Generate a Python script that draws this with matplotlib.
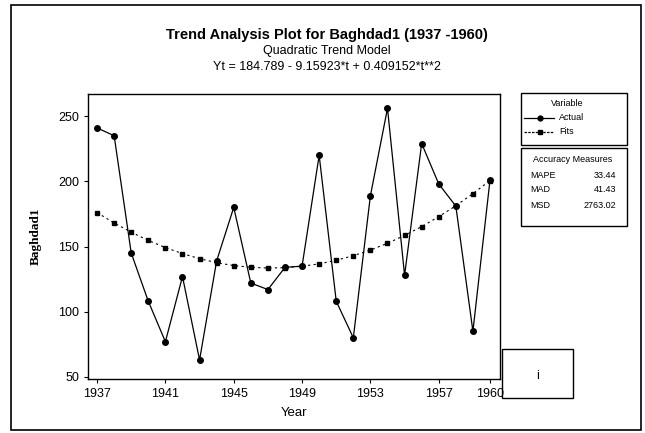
import numpy as np
import matplotlib.pyplot as plt
from matplotlib.lines import Line2D
from matplotlib.patches import Rectangle

# Data
years = list(range(1937, 1961))
actual = [241, 235, 145, 108, 77, 127, 63, 139, 180, 122, 117, 134,
          135, 220, 108, 80, 189, 256, 128, 229, 198, 181, 85, 201]
fits = [176.0, 168.1, 161.0, 154.7, 149.2, 144.6, 140.7, 137.6, 135.4, 134.1,
        133.5, 133.8, 134.9, 136.7, 139.5, 143.0, 147.3, 152.5, 158.5, 165.3,
        172.9, 181.3, 190.6, 200.6]
xticks = [1937, 1941, 1945, 1949, 1953, 1957, 1960]
yticks = [50, 100, 150, 200, 250]
measures = [("MAPE", "33.44"), ("MAD", "41.43"), ("MSD", "2763.02")]

W, H = 645, 433
plt.rcParams['font.family'] = ['Liberation Sans', 'DejaVu Sans']
fig = plt.figure(figsize=(W / 100, H / 100), dpi=100)


def px(x, y):
    # pixel position (top-left origin) -> figure fraction
    return x / W, 1 - y / H


def fig_box(x0, y0, x1, y1, lw=1.0):
    fig.patches.append(Rectangle(px(x0, y1), (x1 - x0) / W, (y1 - y0) / H,
                                 transform=fig.transFigure, fill=False,
                                 edgecolor='black', linewidth=lw))


# outer frame
fig_box(11, 5, 641, 430, lw=1.2)

ax = fig.add_axes([88 / W, 1 - 379 / H, (500 - 88) / W, (379 - 94) / H])
ax.plot(years, actual, color='black', linewidth=0.9, marker='o', markersize=4)
ax.plot(years, fits, color='black', linewidth=0.8, linestyle=(0, (2, 3)),
        marker='s', markersize=3.5)

ax.set_xlim(1936.47, 1960.585)
ax.set_ylim(48.4, 267)
ax.set_xticks(xticks)
ax.set_yticks(yticks)
ax.tick_params(direction='out', length=3, width=0.8, labelsize=9)
for s in ax.spines.values():
    s.set_linewidth(1.0)
ax.set_xlabel('Year', fontsize=9.5, labelpad=5)
ax.set_ylabel('Baghdad1', fontsize=9.5, family='Liberation Serif',
              fontweight='bold', labelpad=12)

# titles
fig.text(*px(327, 35), 'Trend Analysis Plot for Baghdad1 (1937 -1960)',
         ha='center', va='center', fontsize=10.5, fontweight='bold')
fig.text(*px(327, 51), 'Quadratic Trend Model', ha='center', va='center',
         fontsize=9)
fig.text(*px(327, 67), 'Yt = 184.789 - 9.15923*t + 0.409152*t**2',
         ha='center', va='center', fontsize=9)

# legend box
fig_box(521, 93, 627, 145)
fig.text(*px(567, 104), 'Variable', ha='center', va='center', fontsize=6.5)
for yy, lab, mk, ls in [(118, 'Actual', 'o', '-'), (132, 'Fits', 's', (0, (2, 1)))]:
    x0, y0 = px(524, yy)
    x1, _ = px(554, yy)
    xm, _ = px(540, yy)
    fig.add_artist(Line2D([x0, x1], [y0, y0], transform=fig.transFigure,
                          color='black', linewidth=0.9, linestyle=ls))
    fig.add_artist(Line2D([xm], [y0], transform=fig.transFigure, color='black',
                          marker=mk, markersize=3.5))
    fig.text(*px(559, yy), lab, ha='left', va='center', fontsize=6.5)

# accuracy measures box
fig_box(521, 148, 627, 226)
fig.text(*px(573, 160), 'Accuracy Measures', ha='center', va='center', fontsize=6.5)
for i, (name, val) in enumerate(measures):
    yy = 175 + i * 15
    fig.text(*px(530, yy), name, ha='left', va='center', fontsize=6.5)
    fig.text(*px(616, yy), val, ha='right', va='center', fontsize=6.5)

# small box bottom right
fig_box(502, 349, 573, 398)
fig.text(*px(538, 376), 'i', ha='center', va='center', fontsize=9)

fig.savefig('out.png', dpi=100)
